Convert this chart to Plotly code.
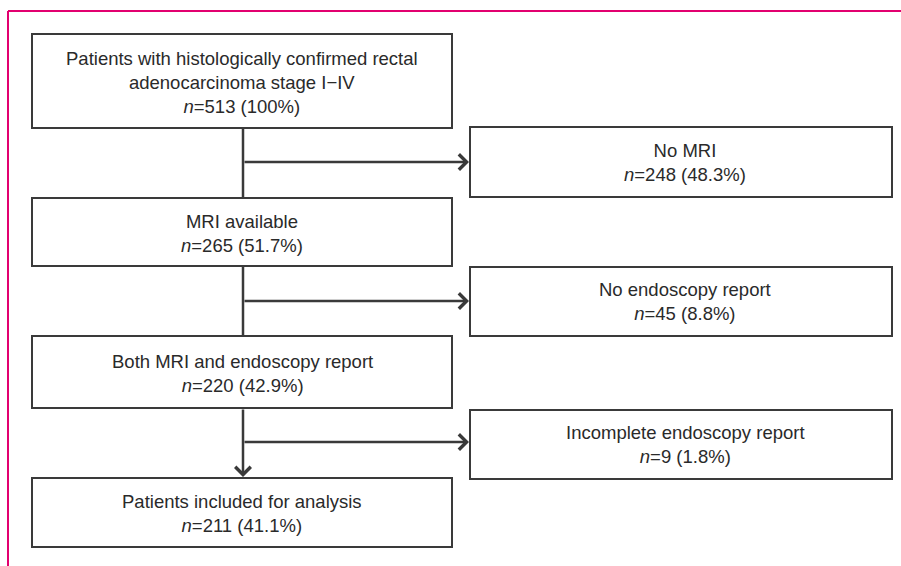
import plotly.graph_objects as go

# flow-chart content
main_labels = [
    "Patients with histologically confirmed rectal<br>adenocarcinoma stage I\u2212IV",
    "MRI available",
    "Both MRI and endoscopy report",
    "Patients included for analysis",
]
main_n = [513, 265, 220, 211]
main_pct = [100, 51.7, 42.9, 41.1]

excl_labels = ["No MRI", "No endoscopy report", "Incomplete endoscopy report"]
excl_n = [248, 45, 9]
excl_pct = [48.3, 8.8, 1.8]

# layout geometry (pixel space of the 901x566 canvas)
W, H = 901, 566
main_x = (32, 452)
main_y = [(34, 128), (198, 266), (336, 408), (478, 547)]
excl_x = (470, 892)
excl_y = [(127, 197), (267, 336), (410, 479)]
branch_y = [162, 301, 442]
stem_x = 243

LINE = "#3a3a3a"
TEXT = "#2a2a2a"
FRAME = "#e2006f"
FONT = "Liberation Sans, Arial, Helvetica, sans-serif"


def label(text, n, pct):
    return f"{text}<br><i>n</i>={n} ({pct:g}%)"


fig = go.Figure()
shapes = []
annotations = []

# magenta frame (top + left)
shapes.append(dict(type="line", x0=8, x1=W, y0=11, y1=11,
                   line=dict(color=FRAME, width=2)))
shapes.append(dict(type="line", x0=8, x1=8, y0=11, y1=H,
                   line=dict(color=FRAME, width=2)))

# vertical stems between main boxes
for i in range(len(main_y) - 1):
    y0 = main_y[i][1]
    y1 = main_y[i + 1][0]
    if i < len(main_y) - 2:
        shapes.append(dict(type="line", x0=stem_x, x1=stem_x, y0=y0, y1=y1,
                           line=dict(color=LINE, width=2.5)))
    else:
        annotations.append(dict(
            x=stem_x, y=y1 - 1, ax=stem_x, ay=y0, xref="x", yref="y",
            axref="x", ayref="y", text="", showarrow=True, arrowhead=4,
            arrowsize=1.2, arrowwidth=2.5, arrowcolor=LINE, standoff=0,
            font=dict(size=1)))

# branch arrows to exclusion boxes
for by in branch_y:
    annotations.append(dict(
        x=excl_x[0] - 1, y=by, ax=stem_x, ay=by, xref="x", yref="y",
        axref="x", ayref="y", text="", showarrow=True, arrowhead=4,
        arrowsize=1.2, arrowwidth=2.5, arrowcolor=LINE, standoff=0,
        font=dict(size=1)))

# main boxes
for (y0, y1), t, n, p in zip(main_y, main_labels, main_n, main_pct):
    shapes.append(dict(type="rect", x0=main_x[0], x1=main_x[1], y0=y0, y1=y1,
                       line=dict(color=LINE, width=2), fillcolor="white"))
    annotations.append(dict(
        x=(main_x[0] + main_x[1]) / 2, y=(y0 + y1) / 2 + 1, xref="x", yref="y",
        text=label(t, n, p), showarrow=False, align="center",
        font=dict(family=FONT, size=18.5, color=TEXT)))

# exclusion boxes
for (y0, y1), t, n, p in zip(excl_y, excl_labels, excl_n, excl_pct):
    shapes.append(dict(type="rect", x0=excl_x[0], x1=excl_x[1], y0=y0, y1=y1,
                       line=dict(color=LINE, width=2), fillcolor="white"))
    annotations.append(dict(
        x=(excl_x[0] + excl_x[1]) / 2, y=(y0 + y1) / 2, xref="x", yref="y",
        xshift=4, text=label(t, n, p), showarrow=False, align="center",
        font=dict(family=FONT, size=18.5, color=TEXT)))

fig.update_layout(
    width=W, height=H,
    margin=dict(l=0, r=0, t=0, b=0),
    paper_bgcolor="white", plot_bgcolor="white",
    xaxis=dict(range=[0, W], visible=False, fixedrange=True),
    yaxis=dict(range=[H, 0], visible=False, fixedrange=True),
    shapes=shapes,
    annotations=annotations,
    showlegend=False,
)

fig.write_html("out.html", config={"displayModeBar": False},
               post_script="document.body.style.margin='0';"
                           "document.body.style.overflow='hidden';")
